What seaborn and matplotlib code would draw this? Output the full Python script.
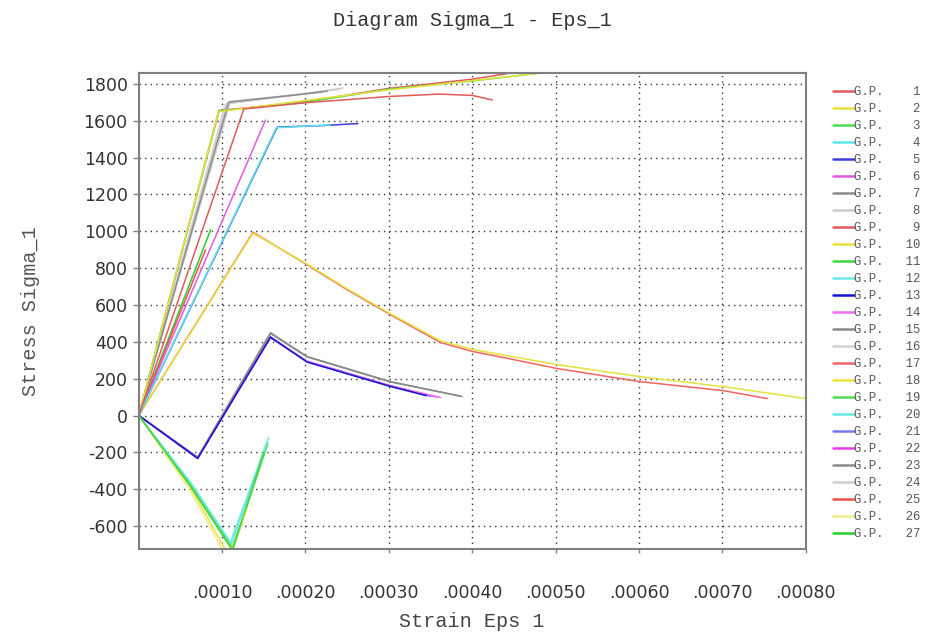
import matplotlib
matplotlib.use("Agg")
import matplotlib.pyplot as plt
from matplotlib.lines import Line2D
import seaborn as sns
import pandas as pd

# ---- data: strain (Eps_1) and stress (Sigma_1) per Gauss point ----
eps_01 = [0, 0.000126, 0.00020, 0.00030, 0.00036, 0.00040, 0.000424]
sig_01 = [0, 1664, 1698, 1732, 1745, 1738, 1713]
eps_02 = [0, 0.0000958, 0.00030, 0.00050]
sig_02 = [0, 1650, 1768, 1868]
eps_03 = [0, 0.0000958, 0.00020, 0.00030, 0.00040, 0.00048, 0.00050]
sig_03 = [0, 1653, 1700, 1772, 1816, 1859, 1870]
eps_04 = [0, 0.000165, 0.00023]
sig_04 = [0, 1562, 1578]
eps_05 = [0, 0.000166, 0.00018, 0.00022, 0.000263]
sig_05 = [0, 1565, 1568, 1574, 1585]
eps_06 = [0, 0.000152]
sig_06 = [0, 1604]
eps_07 = [0, 0.000108, 0.00015, 0.00020, 0.000226]
sig_07 = [0, 1702, 1722, 1746, 1761]
eps_08 = [0, 0.000106, 0.00015, 0.00020, 0.000245]
sig_08 = [0, 1695, 1718, 1748, 1778]
eps_09 = [0, 0.0000965, 0.00020, 0.00030, 0.00040, 0.00045]
sig_09 = [0, 1656, 1703, 1776, 1826, 1862]
eps_10 = [0, 0.000137, 0.000202, 0.00025, 0.000302, 0.000362, 0.000401, 0.000502, 0.000601, 0.000701, 0.00080]
sig_10 = [0, 990, 822, 688, 552, 405, 358, 276, 211, 157, 92]
eps_11 = [0, 0.0000623, 0.000112, 0.000150]
sig_11 = [0, -385, -730, -200]
eps_12 = [0, 0.0000623, 0.000110, 0.000156]
sig_12 = [0, -363, -688, -119]
eps_13 = [0, 0.0000707, 0.000158, 0.000202, 0.000302, 0.000345]
sig_13 = [0, -232, 425, 290, 158, 108]
eps_14 = [0, 0.0000707, 0.000158, 0.000202, 0.000302, 0.000362]
sig_14 = [0, -232, 425, 293, 160, 98]
eps_15 = [0, 0.0000707, 0.000158, 0.000202, 0.000302, 0.000388]
sig_15 = [0, -226, 450, 320, 184, 103]
eps_16 = [0, 0.000104, 0.00018, 0.00024]
sig_16 = [0, 1690, 1738, 1770]
eps_17 = [0, 0.000137, 0.000202, 0.00025, 0.000302, 0.000362, 0.000401, 0.000434, 0.000502, 0.000601, 0.000701, 0.000754]
sig_17 = [0, 995, 818, 683, 547, 396, 347, 318, 255, 184, 135, 92]
eps_18 = [0, 0.0000623, 0.000108, 0.000130]
sig_18 = [0, -392, -760, -500]
eps_19 = [0, 0.0000623, 0.000113, 0.000155]
sig_19 = [0, -380, -725, -150]
eps_20 = [0, 0.0000620, 0.000111, 0.000154]
sig_20 = [0, -368, -700, -140]
eps_21 = [0, 0.0000707, 0.000158, 0.000202, 0.000302, 0.000350]
sig_21 = [0, -235, 428, 292, 158, 104]
eps_22 = [0, 0.0000707, 0.000158, 0.000202, 0.000302, 0.000358]
sig_22 = [0, -230, 422, 295, 162, 100]
eps_23 = [0, 0.0000707, 0.000158, 0.000202, 0.000302, 0.000385]
sig_23 = [0, -228, 445, 318, 182, 106]
eps_24 = [0, 0.000110, 0.00016, 0.00022]
sig_24 = [0, 1705, 1728, 1755]
eps_25 = [0, 0.0000802]
sig_25 = [0, 900]
eps_26 = [0, 0.0000600, 0.000106, 0.000125]
sig_26 = [0, -395, -770, -580]
eps_27 = [0, 0.0000862]
sig_27 = [0, 1008]

gp_numbers = list(range(1, 28))
gp_colors = ["#e05a5a", "#e6e23c", "#4cdc4c", "#5ae6e6", "#3c3cdc", "#e05ae0", "#8c8c8c", "#cccccc",
             "#e05a5a", "#e6e23c", "#3cd83c", "#6ee8e8", "#1414d0", "#ee6eee", "#8a8a8a", "#d2d2d2",
             "#f06464", "#e8e43c", "#50e050", "#64e6e6", "#7878e8", "#e83ce8", "#8c8c8c", "#d0d0d0",
             "#f05050", "#f0ec8c", "#28d028"]
y_ticks = [-600, -400, -200, 0, 200, 400, 600, 800, 1000, 1200, 1400, 1600, 1800]
x_ticks = [0.0001, 0.0002, 0.0003, 0.0004, 0.0005, 0.0006, 0.0007, 0.0008]
x_tick_labels = [".00010", ".00020", ".00030", ".00040", ".00050", ".00060", ".00070", ".00080"]

g = globals()
rows = []
for n in gp_numbers:
    for e, s in zip(g[f"eps_{n:02d}"], g[f"sig_{n:02d}"]):
        rows.append({"gp": n, "eps": e, "sig": s})
df = pd.DataFrame(rows)

sns.set_theme(style="white")
mono = ["Liberation Mono", "DejaVu Sans Mono"]

fig = plt.figure(figsize=(9.25, 6.34), dpi=100)
ax = fig.add_axes([0.150, 0.134, 0.721, 0.751])

# draw in reverse so the low numbers sit on top
for n in reversed(gp_numbers):
    sub = df[df["gp"] == n]
    sns.lineplot(data=sub, x="eps", y="sig", ax=ax, color=gp_colors[n - 1],
                 lw=1.1, sort=False, estimator=None, legend=False)

ax.set_xlim(0, 0.0008)
ax.set_ylim(-725, 1860)
ax.set_xticks(x_ticks)
ax.set_xticklabels(x_tick_labels)
ax.set_yticks(y_ticks)
ax.set_yticklabels([str(v) for v in y_ticks])
ax.grid(True, color="#333333", linestyle=(0, (1, 3)), linewidth=1.0)
for sp in ax.spines.values():
    sp.set_color("#808080")
    sp.set_linewidth(1.5)
ax.tick_params(axis="y", which="both", left=True, length=4, width=1, color="#808080",
               labelsize=12.5, labelcolor="#333333", pad=4)
ax.tick_params(axis="x", which="both", bottom=True, length=3, width=1, color="#808080",
               labelsize=12.5, labelcolor="#333333", pad=22)
for lab in ax.get_xticklabels() + ax.get_yticklabels():
    lab.set_family("DejaVu Sans")

ax.set_xlabel("Strain Eps 1", family=mono, fontsize=14.5, color="#444444", va="center")
ax.set_ylabel("Stress Sigma_1", family=mono, fontsize=14.5, color="#555555")
ax.xaxis.set_label_coords(0.5, -0.152)
ax.yaxis.set_label_coords(-0.1485, 0.5)
fig.text(0.511, 0.968, "Diagram Sigma_1 - Eps_1", family=mono, fontsize=14.5,
         color="#333333", ha="center", va="center")

handles = [Line2D([0], [0], color=gp_colors[n - 1], lw=1.8) for n in gp_numbers]
labels = [f"G.P.{n:>5}" for n in gp_numbers]
leg = fig.legend(handles, labels, loc="upper left", bbox_to_anchor=(0.895, 0.872),
                 frameon=False, prop={"family": mono, "size": 8.8},
                 handlelength=1.7, handletextpad=0.0, labelspacing=0.41, borderaxespad=0)
for t in leg.get_texts():
    t.set_color("#555555")

fig.savefig("out.png", dpi=100, facecolor="white")
